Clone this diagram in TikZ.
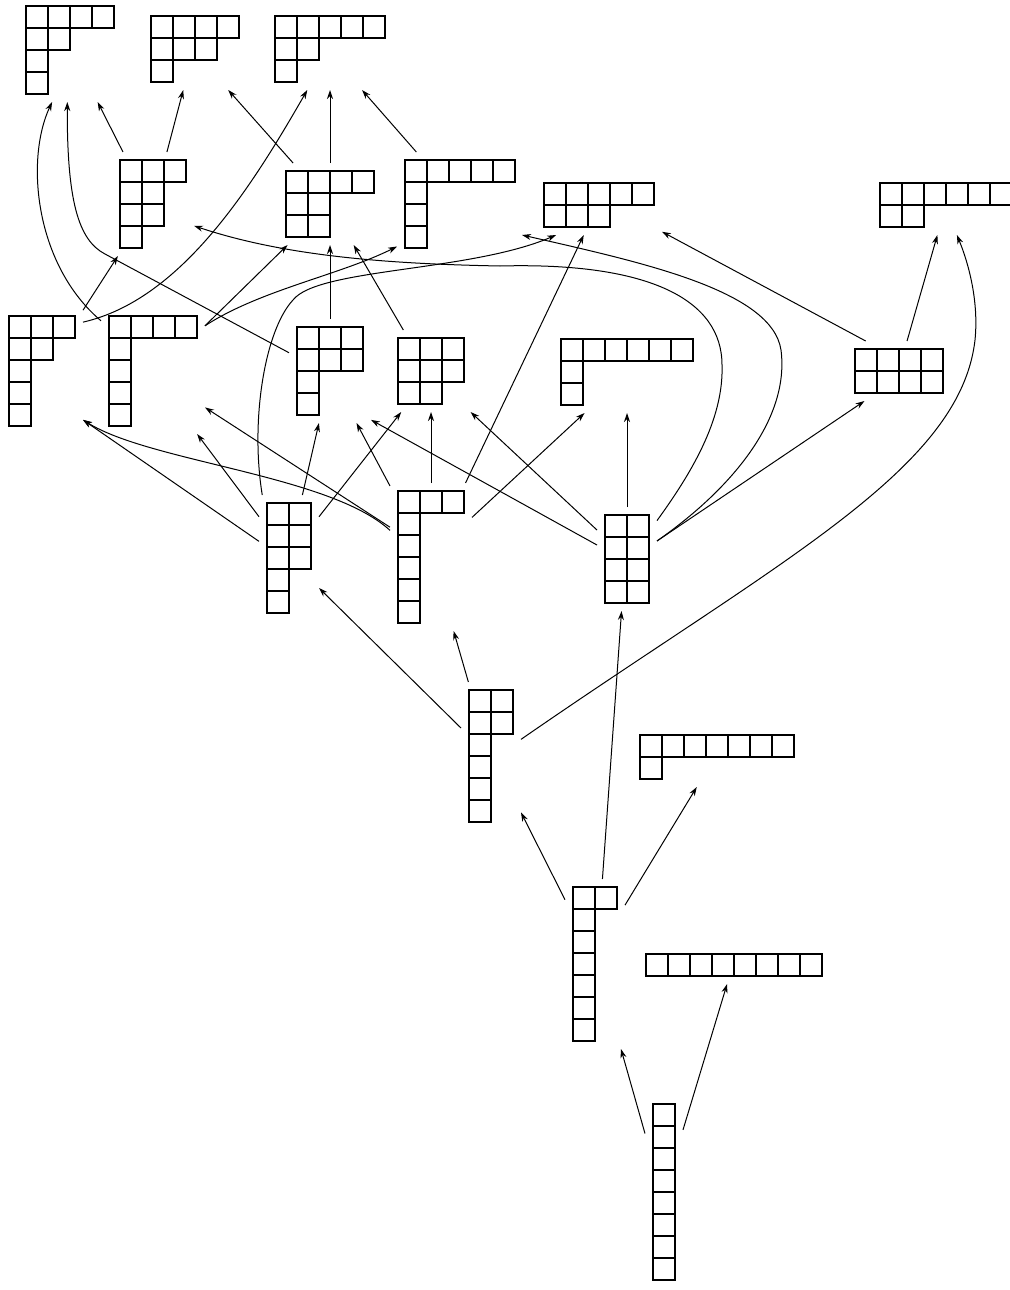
\documentclass[tikz,border=0pt]{standalone}
\usepackage{tikz}
\usetikzlibrary{arrows.meta}

% cells of a Young diagram, drawn from the north west corner of its node
\newcommand{\ycells}[2]{%
  \foreach \len [count=\rw from 0] in {#2}
    \foreach \col in {1,...,\len}
      \draw[cell] ([shift={({(\col-1)*22+8},{\rw*22+8})}]#1.north west) rectangle ++(22,22);}

\begin{document}
\begin{tikzpicture}[x=0.5pt,y=-0.5pt,
  yd/.style 2 args={inner sep=0pt,outer sep=0pt,minimum width={#1*11pt+8pt},minimum height={#2*11pt+8pt}},
  cell/.style={line width=1.1pt},
  link/.style={-{Stealth[length=4.5pt,width=3pt]},line width=0.5pt}]
  \useasboundingbox (0,0) rectangle (1009,1290);

  % partitions of 8
  \node[yd={4}{4}] (p4211) at (70,50) {};      \ycells{p4211}{4,2,1,1}
  \node[yd={4}{3}] (p431) at (195,49) {};      \ycells{p431}{4,3,1}
  \node[yd={5}{3}] (p521) at (330,49) {};      \ycells{p521}{5,2,1}
  \node[yd={3}{4}] (p3221) at (153,204) {};    \ycells{p3221}{3,2,2,1}
  \node[yd={4}{3}] (p422) at (330,204) {};     \ycells{p422}{4,2,2}
  \node[yd={5}{4}] (p5111) at (460,204) {};    \ycells{p5111}{5,1,1,1}
  \node[yd={5}{2}] (p53) at (599,205) {};      \ycells{p53}{5,3}
  \node[yd={6}{2}] (p62) at (946,205) {};      \ycells{p62}{6,2}
  \node[yd={3}{5}] (p32111) at (42,371) {};    \ycells{p32111}{3,2,1,1,1}
  \node[yd={4}{5}] (p41111) at (153,371) {};   \ycells{p41111}{4,1,1,1,1}
  \node[yd={3}{4}] (p3311) at (330,371) {};    \ycells{p3311}{3,3,1,1}
  \node[yd={3}{3}] (p332) at (431,371) {};     \ycells{p332}{3,3,2}
  \node[yd={6}{3}] (p611) at (627,372) {};     \ycells{p611}{6,1,1}
  \node[yd={4}{2}] (p44) at (899,371) {};      \ycells{p44}{4,4}
  \node[yd={2}{5}] (p22211) at (289,558) {};   \ycells{p22211}{2,2,2,1,1}
  \node[yd={3}{6}] (p311111) at (431,557) {};  \ycells{p311111}{3,1,1,1,1,1}
  \node[yd={2}{4}] (p2222) at (627,559) {};    \ycells{p2222}{2,2,2,2}
  \node[yd={2}{6}] (p221111) at (491,756) {};  \ycells{p221111}{2,2,1,1,1,1}
  \node[yd={7}{2}] (p71) at (717,757) {};      \ycells{p71}{7,1}
  \node[yd={2}{7}] (p2111111) at (595,964) {}; \ycells{p2111111}{2,1,1,1,1,1,1}
  \node[yd={8}{1}] (p8) at (734,965) {};       \ycells{p8}{8}
  \node[yd={1}{8}] (p11111111) at (664,1192) {}; \ycells{p11111111}{1,1,1,1,1,1,1,1}

  % arrows
  \draw[link] (p11111111.108) -- (p2111111.-73);
  \draw[link] (p11111111.73) -- (p8.-110);
  \draw[link] (p2111111.115) -- (p221111.-62);
  \draw[link] (p2111111.85) -- (p2222.-96);
  \draw[link] (p2111111.63) -- (p71.-124);
  \draw[link] (p221111.137) -- (p22211.-45);
  \draw[link] (p221111.107) -- (p311111.-73);
  \draw[link] (p221111.29) .. controls (780,560) and (960,470) .. (975,340) .. controls (979,300) and (968,262) .. (p62.-70);
  \draw[link] (p2222.90) -- (p611.-90);
  \draw[link] (p2222.136) -- (p332.-46);
  \draw[link] (p2222.155) -- (p3311.-50);
  \draw[link] (p2222.31) -- (p44.-139);
  \draw[link] (p2222.31) .. controls (730,490) and (790,420) .. (781,350) .. controls (772,290) and (640,262) .. ([shift={(-14,0)}]p53.south west);
  \draw[link] (p2222.52) .. controls (690,475) and (724,420) .. (722,365) .. controls (722,300) and (650,262) .. (500,266) .. controls (400,264) and (290,258) .. (p3221.-28);
  \draw[link] (p311111.147) .. controls (330,475) and (150,462) .. (p32111.-50);
  \draw[link] (p311111.144) -- (p41111.-35);
  \draw[link] (p311111.120) -- (p3311.-63);
  \draw[link] (p311111.90) -- (p332.-90);
  \draw[link] (p311111.65) -- (p53.-117);
  \draw[link] (p311111.44) -- (p611.-136);
  \draw[link] (p22211.151) -- (p32111.-50);
  \draw[link] (p22211.126) -- (p41111.-55);
  \draw[link] (p22211.78) -- (p3311.-102);
  \draw[link] (p22211.54) -- (p332.-126);
  \draw[link] (p22211.113) .. controls (250,420) and (265,330) .. (293,300) .. controls (318,268) and (470,272) .. (p53.-145);
  \draw[link] (p41111.136) .. controls (35,265) and (25,160) .. (p4211.-109);
  \draw[link] (p41111.41) -- (p422.-136);
  \draw[link] (p41111.41) .. controls (260,290) and (340,275) .. (p5111.-146);
  \draw[link] (p32111.56) -- (p3221.-124);
  \draw[link] (p32111.50) .. controls (180,300) and (250,190) .. (p521.-119);
  \draw[link] (p3311.156) -- (105,254) .. controls (78,240) and (67,200) .. (p4211.-93);
  \draw[link] (p3311.90) -- (p422.-90);
  \draw[link] (p332.124) -- (p422.-60);
  \draw[link] (p3221.120) -- (p4211.-62);
  \draw[link] (p3221.75) -- (p431.-106);
  \draw[link] (p422.132) -- (p431.-51);
  \draw[link] (p422.90) -- (p521.-90);
  \draw[link] (p5111.130) -- (p521.-52);
  \draw[link] (p44.138) -- (p53.-23);
  \draw[link] (p44.75) -- (p62.-106);
\end{tikzpicture}
\end{document}
